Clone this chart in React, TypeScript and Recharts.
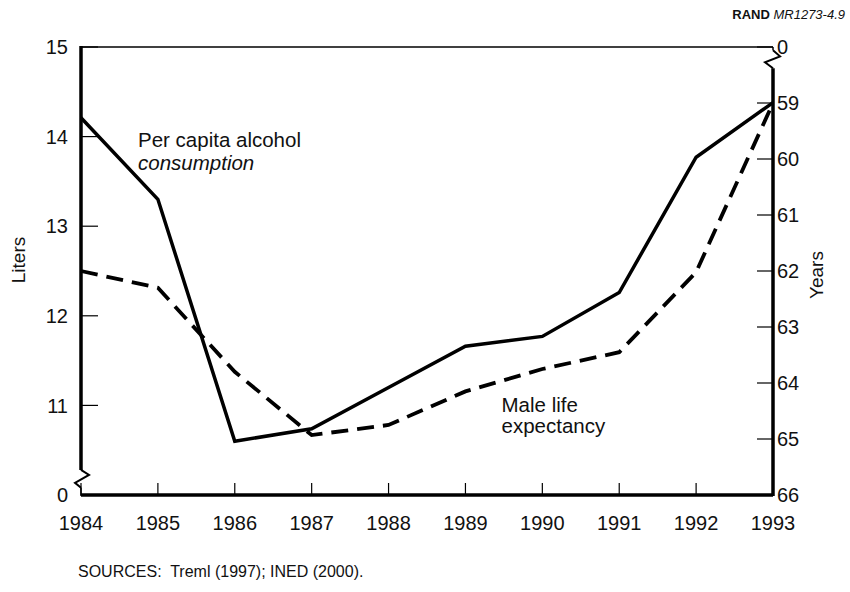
import React from 'react';
import { LineChart, Line, XAxis, YAxis, ReferenceLine } from 'recharts';

const years = [1984, 1985, 1986, 1987, 1988, 1989, 1990, 1991, 1992, 1993];
const alcoholLiters = [14.21, 13.3, 10.6, 10.74, 11.2, 11.66, 11.77, 12.26, 13.77, 14.38];
const maleLifeExpectancy = [62.0, 62.3, 63.8, 64.93, 64.75, 64.15, 63.75, 63.45, 62.02, 59.0];
const litersTicks = [10, 11, 12, 13, 14, 15];
const yearsTicks = [58, 59, 60, 61, 62, 63, 64, 65, 66];

const data = years.map((y, i) => ({ year: y, alcohol: alcoholLiters[i], life: maleLifeExpectancy[i] }));

const FONT = '"Liberation Sans", Arial, Helvetica, sans-serif';
const tickStyle = { fontFamily: FONT, fontSize: 20, fill: '#111' };

const ZigLeft = (p: any) => {
  const { x1, y1, y2 } = p;
  return (
    <path
      d={`M${x1},${y1} L${x1 + 8},${y1 + 5} L${x1 - 6},${y2 - 5} L${x1},${y2}`}
      fill="none"
      stroke="#000"
      strokeWidth={2}
      strokeLinejoin="miter"
    />
  );
};

const ZigRight = (p: any) => {
  const { x1, y1, y2 } = p;
  return (
    <path
      d={`M${x1},${y1} L${x1 + 7},${y1 + 6} L${x1 - 8},${y2 - 6} L${x1},${y2}`}
      fill="none"
      stroke="#000"
      strokeWidth={2}
      strokeLinejoin="miter"
    />
  );
};

export default function App() {
  return (
    <div style={{ position: 'absolute', left: 0, top: 0, width: 850, height: 592, background: '#fff' }}>
      <LineChart
        width={850}
        height={592}
        data={data}
        margin={{ top: 47, right: 0, bottom: 57, left: 0 }}
      >
        <XAxis
          dataKey="year"
          type="number"
          domain={[1984, 1993]}
          ticks={years}
          axisLine={false}
          tickLine={{ stroke: '#000', strokeWidth: 1.2 }}
          tickSize={-12}
          tickMargin={33}
          height={40}
          tick={tickStyle}
          interval={0}
        />
        <YAxis
          yAxisId="left"
          orientation="left"
          type="number"
          domain={[10, 15]}
          ticks={litersTicks}
          width={81}
          axisLine={false}
          tickLine={{ stroke: '#000', strokeWidth: 1.2 }}
          tickSize={-17}
          tickMargin={30}
          tick={tickStyle}
          interval={0}
          tickFormatter={(v: number) => (v === 10 ? '0' : String(v))}
        />
        <YAxis
          yAxisId="right"
          orientation="right"
          type="number"
          domain={[58, 66]}
          reversed
          ticks={yearsTicks}
          width={77}
          axisLine={false}
          tickLine={{ stroke: '#000', strokeWidth: 1.2 }}
          tickSize={-16}
          tickMargin={20}
          tick={tickStyle}
          interval={0}
          tickFormatter={(v: number) => (v === 58 ? '0' : String(v))}
        />
        {/* frame */}
        <ReferenceLine yAxisId="left" segment={[{ x: 1984, y: 15 }, { x: 1993, y: 15 }]} stroke="#000" strokeWidth={1.5} ifOverflow="visible" />
        <ReferenceLine yAxisId="left" segment={[{ x: 1984, y: 10 }, { x: 1993, y: 10 }]} stroke="#000" strokeWidth={3.5} ifOverflow="visible" />
        <ReferenceLine yAxisId="left" segment={[{ x: 1984, y: 15.01 }, { x: 1984, y: 10.28 }]} stroke="#000" strokeWidth={3.5} ifOverflow="visible" />
        <ReferenceLine yAxisId="left" segment={[{ x: 1984, y: 10.28 }, { x: 1984, y: 10.08 }]} shape={ZigLeft} ifOverflow="visible" />
        <ReferenceLine yAxisId="left" segment={[{ x: 1984, y: 10.08 }, { x: 1984, y: 9.99 }]} stroke="#000" strokeWidth={1.5} ifOverflow="visible" />
        <ReferenceLine yAxisId="right" segment={[{ x: 1993, y: 58 }, { x: 1993, y: 58.06 }]} stroke="#000" strokeWidth={1.5} ifOverflow="visible" />
        <ReferenceLine yAxisId="right" segment={[{ x: 1993, y: 58.06 }, { x: 1993, y: 58.38 }]} shape={ZigRight} ifOverflow="visible" />
        <ReferenceLine yAxisId="right" segment={[{ x: 1993, y: 58.38 }, { x: 1993, y: 66.02 }]} stroke="#000" strokeWidth={3.5} ifOverflow="visible" />

        <Line
          yAxisId="left"
          type="linear"
          dataKey="alcohol"
          stroke="#000"
          strokeWidth={3.5}
          dot={false}
          activeDot={false}
          strokeLinejoin="miter"
          isAnimationActive={false}
        />
        <Line
          yAxisId="right"
          type="linear"
          dataKey="life"
          stroke="#000"
          strokeWidth={3.8}
          strokeDasharray="17 9"
          dot={false}
          activeDot={false}
          isAnimationActive={false}
        />
      </LineChart>
      <svg
        width={850}
        height={592}
        style={{ position: 'absolute', left: 0, top: 0, pointerEvents: 'none' }}
      >
        <g fontFamily={FONT} fill="#111">
          <text x={845} y={19} textAnchor="end" fontSize={13}>
            <tspan fontWeight="bold">RAND</tspan>
            <tspan fontStyle="italic"> MR1273-4.9</tspan>
          </text>
          <text x={138} y={146.5} fontSize={20.5}>Per capita alcohol</text>
          <text x={138} y={170} fontSize={20.5} fontStyle="italic">consumption</text>
          <text x={501.5} y={411.5} fontSize={20.5}>Male life</text>
          <text x={501.5} y={433} fontSize={20.5}>expectancy</text>
          <text x={0} y={0} fontSize={19} textAnchor="middle" transform="translate(25,260) rotate(-90)">Liters</text>
          <text x={0} y={0} fontSize={19} textAnchor="middle" transform="translate(823,275) rotate(-90)">Years</text>
          <text x={78} y={577} fontSize={16} xmlSpace="preserve">SOURCES:  Treml (1997); INED (2000).</text>
        </g>
      </svg>
    </div>
  );
}
